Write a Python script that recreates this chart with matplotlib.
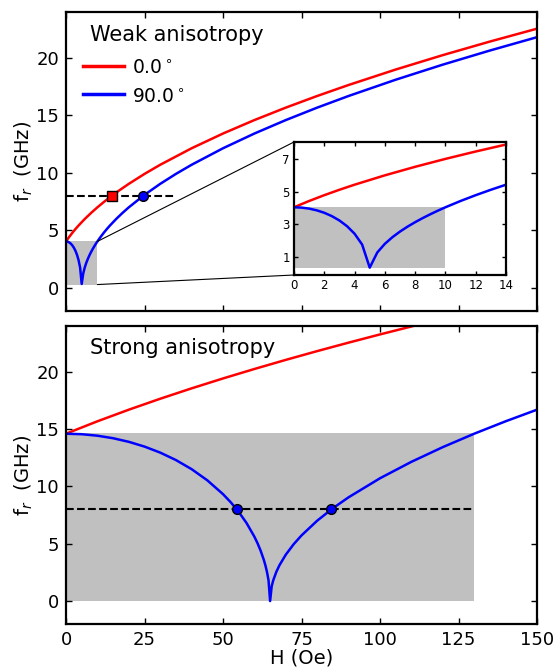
import numpy as np
import matplotlib
matplotlib.use("Agg")
import matplotlib.pyplot as plt
from matplotlib.patches import Rectangle, ConnectionPatch

# ---- weak anisotropy (Hk ~ 5 Oe) ----
weak_H_red = [0, 1, 2, 3, 4, 6, 8, 10, 12, 14, 17, 20, 25, 30, 40, 50, 60, 70,
              80, 90, 105, 120, 135, 150]
weak_f_red = [4.050, 4.436, 4.792, 5.123, 5.434, 6.007, 6.530, 7.015, 7.468,
              7.895, 8.495, 9.056, 9.920, 10.715, 12.150, 13.432, 14.602,
              15.685, 16.698, 17.653, 18.997, 20.250, 21.430, 22.549]

weak_H_blue = [0, 0.5, 1, 1.5, 2, 2.5, 3, 3.5, 4, 4.5, 5, 5.5, 6, 6.5, 7, 7.5,
               8, 8.5, 9, 9.5, 10, 11, 12, 13, 14, 16, 18, 20, 25, 30, 35, 40,
               50, 60, 70, 80, 90, 105, 120, 135, 150]
weak_f_blue = [4.050, 4.030, 3.968, 3.863, 3.712, 3.507, 3.240, 2.892, 2.430,
               1.765, 0.35, 1.281, 1.811, 2.218, 2.561, 2.864, 3.137, 3.388,
               3.622, 3.842, 4.050, 4.436, 4.792, 5.123, 5.434, 6.007, 6.530,
               7.015, 8.100, 9.056, 9.920, 10.715, 12.150, 13.432, 14.602,
               15.685, 16.698, 18.112, 19.423, 20.650, 21.810]

# ---- strong anisotropy (Hk ~ 65 Oe) ----
strong_H_red = [0, 10, 20, 30, 40, 50, 60, 70, 80, 90, 100, 110, 120, 130,
                140, 150]
strong_f_red = [14.602, 15.685, 16.698, 17.653, 18.559, 19.423, 20.250,
                21.044, 21.810, 22.549, 23.265, 23.960, 24.634, 25.292,
                25.932, 26.557]

strong_H_blue = [0, 5, 10, 15, 20, 25, 30, 35, 40, 45, 50, 52.5, 55, 57.5, 60,
                 61, 62, 63, 63.5, 64, 64.5, 65, 65.5, 66, 67, 68, 70, 72.5,
                 75, 80, 85, 90, 100, 110, 120, 130, 140, 150]
strong_f_blue = [14.602, 14.559, 14.429, 14.208, 13.894, 13.479, 12.954,
                 12.305, 11.510, 10.537, 9.330, 8.610, 7.782, 6.809, 5.616,
                 5.044, 4.385, 3.594, 3.119, 2.552, 1.808, 0.0, 1.281, 1.811,
                 2.561, 3.137, 4.050, 4.960, 5.727, 7.015, 8.100, 9.056,
                 10.715, 12.150, 13.432, 14.602, 15.685, 16.698]

f_target = 8.0
weak_marks_H = [14.5, 24.5]
strong_marks_H = [54.4, 84.5]
weak_dash_H = [0, 35]
strong_dash_H = [0, 130]
weak_shade = (0, 10, 0.3, 4.05)      # x0, x1, y0, y1
strong_shade = (0, 130, 0.0, 14.68)

labels = [r'0.0$^\circ$', r'90.0$^\circ$']

fig = plt.figure(figsize=(5.58, 6.68), dpi=100)
ax1 = fig.add_axes([66/558, 1-311/668, 471/558, 299/668])
ax2 = fig.add_axes([66/558, 1-624/668, 471/558, 298/668])


def style(ax, size=13, length=4):
    ax.tick_params(direction='in', top=True, right=True, labelsize=size,
                   length=length, width=1, pad=5)
    for s in ax.spines.values():
        s.set_linewidth(1.6)


def shade(ax, box):
    x0, x1, y0, y1 = box
    ax.add_patch(Rectangle((x0, y0), x1 - x0, y1 - y0, color='silver',
                           lw=0, zorder=0))


for ax in (ax1, ax2):
    style(ax)
    ax.set_xlim(0, 150)
    ax.set_ylim(-2, 24)
    ax.set_xticks([0, 25, 50, 75, 100, 125, 150])
    ax.set_yticks([0, 5, 10, 15, 20])
    ax.set_ylabel(r'f$_r$  (GHz)', fontsize=14, labelpad=1)
ax1.set_xticklabels([])

# top panel
shade(ax1, weak_shade)
l1, = ax1.plot(weak_H_red, weak_f_red, color='red', lw=1.8)
l2, = ax1.plot(weak_H_blue, weak_f_blue, color='blue', lw=1.8)
ax1.plot(weak_dash_H, [f_target, f_target], 'k--', lw=1.5, zorder=3)
ax1.plot(weak_marks_H[0], f_target, 's', color='red', mec='k', ms=7, zorder=4)
ax1.plot(weak_marks_H[1], f_target, 'o', color='blue', mec='k', ms=7, zorder=4)
ax1.text(90/558, 1-41/668, 'Weak anisotropy', transform=fig.transFigure,
         fontsize=15)
ax1.legend([l1, l2], labels, loc='upper left', frameon=False, fontsize=13.5,
           bbox_to_anchor=(0.02, 0.87), handlelength=2.2, handletextpad=0.4,
           borderaxespad=0, labelspacing=0.5, handleheight=1.0)
for lh in ax1.get_legend().get_lines():
    lh.set_linewidth(2.5)

# inset
axi = fig.add_axes([294/558, 1-275/668, 212/558, 133/668])
style(axi, size=8.5, length=3)
shade(axi, weak_shade)
axi.plot(weak_H_red, weak_f_red, color='red', lw=1.8)
axi.plot(weak_H_blue, weak_f_blue, color='blue', lw=1.8)
axi.set_xlim(0, 14)
axi.set_ylim(-0.1, 8.05)
axi.set_xticks([0, 2, 4, 6, 8, 10, 12, 14])
axi.set_yticks([1, 3, 5, 7])
axi.tick_params(pad=3)

x0, x1, y0, y1 = weak_shade
for (xa, ya), yb in [((x1, y1), 1), ((x1, y0), 0)]:
    con = ConnectionPatch(xyA=(xa, ya), coordsA=ax1.transData,
                          xyB=(0, yb), coordsB=axi.transAxes,
                          color='k', lw=0.8)
    fig.add_artist(con)

# bottom panel
shade(ax2, strong_shade)
ax2.plot(strong_H_red, strong_f_red, color='red', lw=1.8)
ax2.plot(strong_H_blue, strong_f_blue, color='blue', lw=1.8)
ax2.plot(strong_dash_H, [f_target, f_target], 'k--', lw=1.5, zorder=3)
ax2.plot(strong_marks_H, [f_target, f_target], 'o', color='blue', mec='k',
         ms=7, zorder=4)
ax2.text(90/558, 1-354/668, 'Strong anisotropy', transform=fig.transFigure,
         fontsize=15)
ax2.set_xlabel('H (Oe)', fontsize=14, labelpad=0)

fig.savefig('out.png', dpi=100)
